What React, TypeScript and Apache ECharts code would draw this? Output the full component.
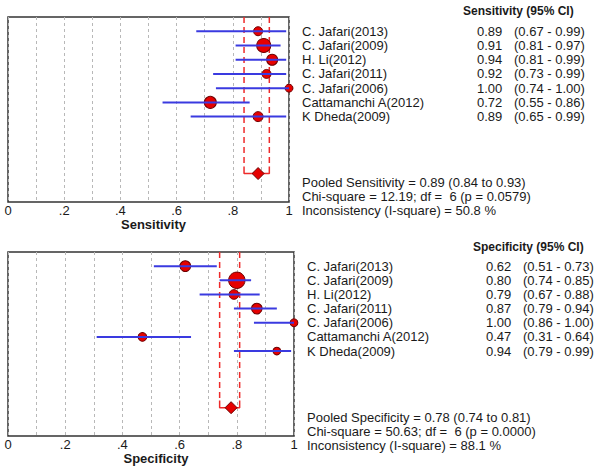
import React, { useEffect, useRef } from "react";
import * as echarts from "echarts";

const studies = [
  "C. Jafari(2013)",
  "C. Jafari(2009)",
  "H. Li(2012)",
  "C. Jafari(2011)",
  "C. Jafari(2006)",
  "Cattamanchi A(2012)",
  "K Dheda(2009)",
];
const sensEst = [0.89, 0.91, 0.94, 0.92, 1.0, 0.72, 0.89];
const sensLo = [0.67, 0.81, 0.81, 0.73, 0.74, 0.55, 0.65];
const sensHi = [0.99, 0.97, 0.99, 0.99, 1.0, 0.86, 0.99];
const sensWeight = [10.3, 24.9, 15.4, 10.3, 8.1, 18.3, 12.7];
const sensPooled = [0.89, 0.84, 0.93];
const sensChi = "12.19";
const sensP = "0.0579";
const sensI2 = "50.8";

const specEst = [0.62, 0.8, 0.79, 0.87, 1.0, 0.47, 0.94];
const specLo = [0.51, 0.74, 0.67, 0.79, 0.86, 0.31, 0.79];
const specHi = [0.73, 0.85, 0.88, 0.94, 1.0, 0.64, 0.99];
const specWeight = [14.4, 34.4, 11.9, 14.4, 7.6, 9.6, 7.6];
const specPooled = [0.78, 0.74, 0.81];
const specChi = "50.63";
const specP = "0.0000";
const specI2 = "88.1";

const df = 6;
const xTicks = [0, 0.2, 0.4, 0.6, 0.8, 1];
const POOLED_ROW = 11;
const BRACKET_TOP = 10.5;

const FONT = "'Liberation Sans', Arial, sans-serif";
const TXT = "#1a1a1a";
const RED_LINE = "#ee2a2a";
const f2 = (v: number) => v.toFixed(2);

function panel(
  gi: number,
  name: string,
  est: number[],
  lo: number[],
  hi: number[],
  w: number[],
  pooled: number[],
  nameWidth: number
) {
  const xAxis = {
    gridIndex: gi,
    type: "value",
    min: 0,
    max: 1,
    interval: 0.1,
    name,
    nameLocation: "middle",
    nameGap: 15,
    nameTextStyle: {
      fontFamily: FONT,
      fontSize: 13,
      fontWeight: "bold",
      color: TXT,
      padding: [0, 0, 0, 10],
    },
    axisLine: { show: false },
    axisTick: { show: false },
    axisLabel: {
      margin: 2,
      fontFamily: FONT,
      fontSize: 13,
      color: TXT,
      formatter: (v: number) => {
        const t = xTicks.find((x) => Math.abs(x - v) < 1e-6);
        if (t === undefined) return "";
        if (t === 0) return "0";
        if (t === 1) return "1";
        return "." + Math.round(t * 10);
      },
    },
    splitLine: {
      show: true,
      lineStyle: { color: "#b8b8b8", type: [3, 3], width: 1 },
    },
  };
  const yAxis = {
    gridIndex: gi,
    type: "value",
    inverse: true,
    min: 0,
    max: 13,
    interval: 1,
    position: "right",
    axisLine: { show: false },
    axisTick: { show: false },
    splitLine: { show: false },
    axisLabel: {
      margin: 13,
      fontFamily: FONT,
      fontSize: 13,
      color: TXT,
      align: "left",
      formatter: (v: number) => {
        const i = Math.round(v) - 1;
        if (i < 0 || i >= studies.length) return "";
        return `{n|${studies[i]}}{v|${f2(est[i])}}{c|(${f2(lo[i])} - ${f2(hi[i])})}`;
      },
      rich: {
        n: { width: nameWidth, fontFamily: FONT, fontSize: 13, color: TXT },
        v: { width: 37, fontFamily: FONT, fontSize: 13, color: TXT },
        c: { fontFamily: FONT, fontSize: 13, color: TXT },
      },
    },
  };
  const dashed = (x: number) => ({
    type: "line",
    xAxisIndex: gi,
    yAxisIndex: gi,
    data: [
      [x, 0],
      [x, BRACKET_TOP],
    ],
    symbol: "none",
    lineStyle: { color: RED_LINE, width: 1.5, type: [6, 4] },
    z: 1,
  });
  const series: any[] = [
    dashed(pooled[1]),
    dashed(pooled[2]),
    {
      type: "line",
      xAxisIndex: gi,
      yAxisIndex: gi,
      data: [
        [pooled[1], BRACKET_TOP],
        [pooled[1], POOLED_ROW],
        [pooled[2], POOLED_ROW],
        [pooled[2], BRACKET_TOP],
      ],
      symbol: "none",
      lineStyle: { color: RED_LINE, width: 1.5 },
      z: 1,
    },
    {
      type: "scatter",
      xAxisIndex: gi,
      yAxisIndex: gi,
      data: est.map((e, i) => [e, i + 1, w[i]]),
      symbol: "circle",
      symbolSize: (d: number[]) => 2.8 * Math.sqrt(d[2]),
      itemStyle: { color: "#e60000", borderColor: "#6e0000", borderWidth: 1, opacity: 1 },
      z: 2,
    },
    {
      type: "custom",
      xAxisIndex: gi,
      yAxisIndex: gi,
      data: lo.map((l, i) => [l, hi[i], i + 1]),
      encode: { x: [0, 1], y: 2 },
      renderItem: (params: any, api: any) => {
        const a = api.coord([api.value(0), api.value(2)]);
        const b = api.coord([api.value(1), api.value(2)]);
        return {
          type: "line",
          shape: { x1: a[0], y1: a[1], x2: b[0], y2: b[1] },
          style: { stroke: "#3a3ae0", lineWidth: 2 },
        };
      },
      z: 3,
    },
    {
      type: "scatter",
      xAxisIndex: gi,
      yAxisIndex: gi,
      data: [[pooled[0], POOLED_ROW]],
      symbol: "diamond",
      symbolSize: 12,
      itemStyle: { color: "#e60000", borderColor: "#6e0000", borderWidth: 1, opacity: 1 },
      z: 4,
    },
  ];
  return { xAxis, yAxis, series };
}

export default function App() {
  const ref = useRef<HTMLDivElement>(null);
  useEffect(() => {
    if (!ref.current) return;
    const chart = echarts.init(ref.current, undefined, { renderer: "svg" });
    const top = panel(0, "Sensitivity", sensEst, sensLo, sensHi, sensWeight, sensPooled, 175);
    const bot = panel(1, "Specificity", specEst, specLo, specHi, specWeight, specPooled, 179);
    const txt = (x: number, y: number, text: string, bold = false) => ({
      type: "text",
      x,
      y,
      style: {
        text,
        fontFamily: FONT,
        fontSize: bold ? 12 : 13,
        fontWeight: bold ? "bold" : "normal",
        fill: TXT,
        verticalAlign: "middle",
      },
    });
    chart.setOption({
      animation: false,
      backgroundColor: "#ffffff",
      grid: [
        { left: 8, top: 17, width: 281, height: 185, show: true, borderColor: "#333", borderWidth: 1.5, backgroundColor: "transparent" },
        { left: 8, top: 252, width: 286, height: 184, show: true, borderColor: "#333", borderWidth: 1.5, backgroundColor: "transparent" },
      ],
      xAxis: [top.xAxis, bot.xAxis],
      yAxis: [top.yAxis, bot.yAxis],
      series: [...top.series, ...bot.series],
      graphic: [
        txt(463, 11, "Sensitivity (95% CI)", true),
        txt(302, 182, `Pooled Sensitivity = ${f2(sensPooled[0])} (${f2(sensPooled[1])} to ${f2(sensPooled[2])})`),
        txt(302, 196, `Chi-square = ${sensChi}; df =  ${df} (p = ${sensP})`),
        txt(302, 210, `Inconsistency (I-square) = ${sensI2} %`),
        txt(473, 247, "Specificity (95% CI)", true),
        txt(307, 417, `Pooled Specificity = ${f2(specPooled[0])} (${f2(specPooled[1])} to ${f2(specPooled[2])})`),
        txt(307, 431, `Chi-square = ${specChi}; df =  ${df} (p = ${specP})`),
        txt(307, 445, `Inconsistency (I-square) = ${specI2} %`),
      ],
    });
    return () => chart.dispose();
  }, []);
  return (
    <div
      ref={ref}
      style={{ position: "absolute", left: 0, top: 0, width: 600, height: 471 }}
    />
  );
}
